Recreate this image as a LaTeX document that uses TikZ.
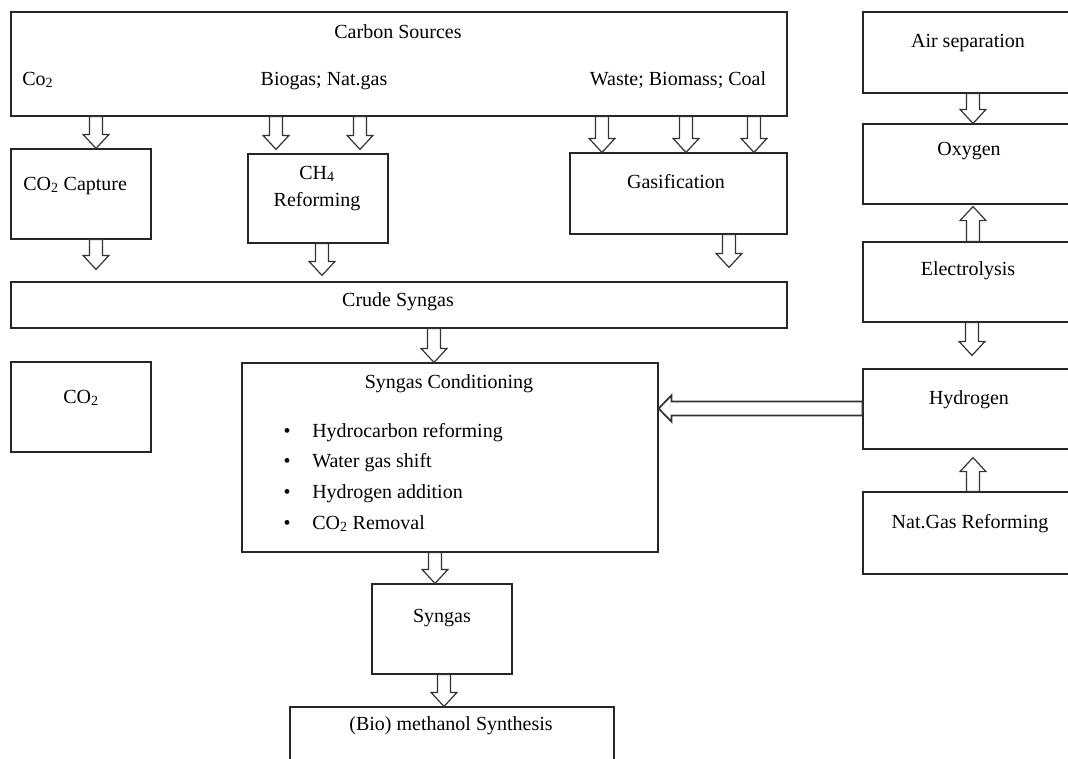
\documentclass[tikz,border=0pt]{standalone}
\usepackage{fontspec}
\setmainfont{Liberation Serif}
\usetikzlibrary{fit}

% Hollow block arrow pointing down from node #2 to node #3 at horizontal position #4;
% optional #1 leaves a gap (px) between the tip and the target node.
\newcommand\downblk[4][0]{%
  \coordinate (bx) at (#4,0);
  \path (#2.south -| bx) coordinate (bs) (#3.north -| bx) ++(0,-#1) coordinate (bt);
  \draw[blk] ([xshift=-4.9pt]bs) -- ([xshift=-4.9pt,yshift=10.5pt]bt)
    -- ([xshift=-9.75pt,yshift=10.5pt]bt) -- (bt)
    -- ([xshift=9.75pt,yshift=10.5pt]bt) -- ([xshift=4.9pt,yshift=10.5pt]bt)
    -- ([xshift=4.9pt]bs) -- cycle;}
% Hollow block arrow pointing up from node #2 to node #3.
\newcommand\upblk[4][0]{%
  \coordinate (bx) at (#4,0);
  \path (#2.north -| bx) coordinate (bs) (#3.south -| bx) ++(0,#1) coordinate (bt);
  \draw[blk] ([xshift=-4.9pt]bs) -- ([xshift=-4.9pt,yshift=-10.5pt]bt)
    -- ([xshift=-9.75pt,yshift=-10.5pt]bt) -- (bt)
    -- ([xshift=9.75pt,yshift=-10.5pt]bt) -- ([xshift=4.9pt,yshift=-10.5pt]bt)
    -- ([xshift=4.9pt]bs) -- cycle;}
% Hollow block arrow pointing left from node #1 to node #2 at height #3.
\newcommand\leftblk[3]{%
  \coordinate (by) at (0,#3);
  \path (#1.west |- by) coordinate (bs) (#2.east |- by) coordinate (bt);
  \draw[blk, line width=1.3pt] ([yshift=5.25pt]bs) -- ([yshift=5.25pt,xshift=9.75pt]bt)
    -- ([yshift=10pt,xshift=9.75pt]bt) -- (bt)
    -- ([yshift=-10pt,xshift=9.75pt]bt) -- ([yshift=-5.25pt,xshift=9.75pt]bt)
    -- ([yshift=-5.25pt]bs) -- cycle;}

\begin{document}
\begin{tikzpicture}[x=0.75pt,y=-0.75pt,
  box/.style={draw=black!85, line width=0.9pt, inner sep=0pt, fit={#1}},
  lbl/.style={font=\fontsize{15}{18}\selectfont, inner sep=0pt, anchor=base},
  blk/.style={draw=black!80, line width=0.9pt, fill=white, line join=miter}]
\useasboundingbox (0,0) rectangle (1068,758);

% ---- boxes ----
\node[box={(11,12) (787,116)}] (cs) {};
\node[box={(11,149) (151,239)}] (cap) {};
\node[box={(248,154) (388,243)}] (ch4) {};
\node[box={(570,153) (787,234)}] (gas) {};
\node[box={(11,282) (787,328)}] (crude) {};
\node[box={(11,362) (151,452)}] (co2) {};
\node[box={(242,363) (658,552)}] (cond) {};
\node[box={(372,584) (512,674)}] (syn) {};
\node[box={(290,707) (614,780)}] (meth) {};
\node[box={(863,12) (1085,93)}] (air) {};
\node[box={(863,124) (1085,204)}] (oxy) {};
\node[box={(863,242) (1085,322)}] (elec) {};
\node[box={(863,369) (1085,449)}] (hyd) {};
\node[box={(863,492) (1085,574)}] (ngr) {};

% ---- labels ----
\node[lbl] (tcs) at (398,38) {Carbon Sources};
\node[lbl, anchor=base west] (tco) at (22,85) {Co\textsubscript{2}};
\node[lbl] (tbio) at (324,85) {Biogas; Nat.gas};
\node[lbl] (twaste) at (678,85) {Waste; Biomass; Coal};
\node[lbl, anchor=base west] (tcap) at (23,190) {CO\textsubscript{2} Capture};
\node[lbl] (tch4) at (317,179) {CH\textsubscript{4}};
\node[lbl] (tref) at (317,206) {Reforming};
\node[lbl] (tgas) at (676,188) {Gasification};
\node[lbl] (tcrude) at (398,306) {Crude Syngas};
\node[lbl] (tco2) at (81,403) {CO\textsubscript{2}};
\node[lbl] (tcond) at (449,388) {Syngas Conditioning};
\foreach \y/\t [count=\i] in {437/Hydrocarbon reforming, 467/Water gas shift,
    498/Hydrogen addition, 529/CO\textsubscript{2} Removal} {
  \node[lbl] (bul\i) at (287,\y) {\textbullet};
  \node[lbl, anchor=base west] (item\i) at (312,\y) {\t};
}
\node[lbl] (tsyn) at (442,622) {Syngas};
\node[lbl] (tmeth) at (451,730) {(Bio) methanol Synthesis};
\node[lbl] (tair) at (968,47) {Air separation};
\node[lbl] (toxy) at (969,155) {Oxygen};
\node[lbl] (telec) at (968,275) {Electrolysis};
\node[lbl] (thyd) at (969,404) {Hydrogen};
\node[lbl] (tngr) at (970,528) {Nat.Gas Reforming};

% ---- block arrows ----
\downblk{cs}{cap}{96}
\downblk[4]{cs}{ch4}{276}
\downblk[4]{cs}{ch4}{360}
\downblk{cs}{gas}{602}
\downblk{cs}{gas}{686}
\downblk{cs}{gas}{754}
\downblk[12]{cap}{crude}{96}
\downblk[6]{ch4}{crude}{322}
\downblk[14]{gas}{crude}{729}
\downblk{crude}{cond}{434}
\downblk{cond}{syn}{435}
\downblk{syn}{meth}{444}
\downblk{air}{oxy}{973}
\upblk[2]{elec}{oxy}{973}
\downblk[13]{elec}{hyd}{972}
\upblk[8]{ngr}{hyd}{973}
\leftblk{hyd}{cond}{408.5}
\end{tikzpicture}
\end{document}
